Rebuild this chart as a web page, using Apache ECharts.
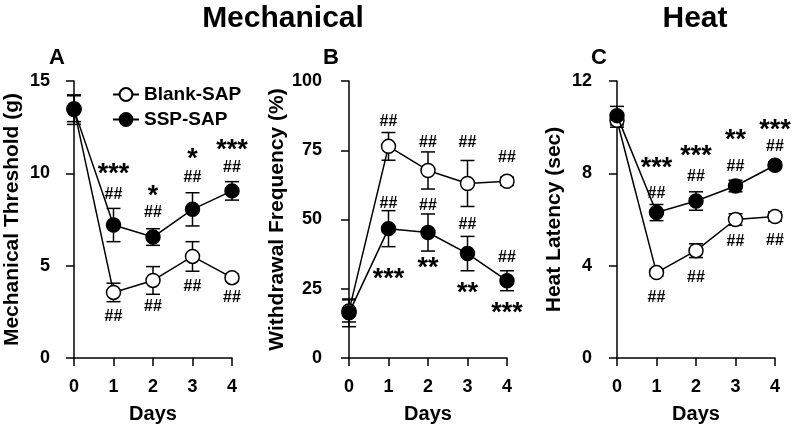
<!DOCTYPE html>
<html>
<head>
<meta charset="utf-8">
<script src="https://cdn.jsdelivr.net/npm/echarts@6/dist/echarts.min.js"></script>
<style>html,body{margin:0;padding:0;background:#fff}#c{width:800px;height:434px}</style>
</head>
<body>
<div id="c"></div>
<script>
// ---- data ----
const days = [0, 1, 2, 3, 4];
const seriesNames = ['Blank-SAP', 'SSP-SAP'];

const mechBlank = [13.5, 3.55, 4.2, 5.5, 4.35];
const mechBlankErr = [0.7, 0.5, 0.75, 0.8, 0.2];
const mechSSP = [13.45, 7.2, 6.55, 8.05, 9.05];
const mechSSPErr = [0.8, 0.9, 0.45, 0.9, 0.5];

const freqBlank = [17, 76.4, 67.7, 63, 63.8];
const freqBlankErr = [4, 5, 6.7, 8.3, 1.5];
const freqSSP = [16.3, 46.7, 45.3, 37.7, 27.9];
const freqSSPErr = [5, 6.5, 6.7, 6.2, 3.6];

const heatBlank = [10.3, 3.7, 4.65, 6.0, 6.13];
const heatBlankErr = [0.3, 0.15, 0.3, 0.25, 0.2];
const heatSSP = [10.5, 6.3, 6.8, 7.45, 8.35];
const heatSSPErr = [0.4, 0.35, 0.4, 0.25, 0.15];

// significance marks: [day, y-value, text]
const mechMarks = [[1,10.27,'***'],[1,8.87,'##'],[1,2.26,'##'],[2,9.09,'*'],[2,7.85,'##'],[2,2.8,'##'],
                   [3,11.08,'*'],[3,9.78,'##'],[3,3.87,'##'],[4,11.6,'***'],[4,10.3,'##'],[4,3.28,'##']];
const freqMarks = [[1,85.5,'##'],[1,55.8,'##'],[1,30.8,'***'],[2,77.9,'##'],[2,55.1,'##'],[2,34.8,'**'],
                   [3,77.9,'##'],[3,48.2,'##'],[3,25.7,'**'],[4,72.5,'##'],[4,36.2,'##'],[4,18.5,'***']];
const heatMarks = [[1,8.48,'***'],[1,7.13,'##'],[1,2.61,'##'],[2,9.0,'***'],[2,7.87,'##'],[2,3.48,'##'],
                   [3,9.7,'**'],[3,8.3,'##'],[3,5.04,'##'],[4,10.13,'***'],[4,9.17,'##'],[4,5.09,'##']];

const yNames = ['Mechanical Threshold (g)', 'Withdrawal Frequency (%)', 'Heat Latency (sec)'];
const yMax = [15, 100, 12];
const yInterval = [5, 25, 4];
const titles = ['Mechanical', 'Heat'];
const panelLetters = ['A', 'B', 'C'];

// ---- chart ----
const FF = '"Liberation Sans", Arial, Helvetica, sans-serif';
const chart = echarts.init(document.getElementById('c'), null, {renderer: 'canvas'});

const gridLefts = [74, 349, 617];
const yOffsets = [7, 8, 7];
const nameGaps = [44, 44, 45];
const labelMargins = [17, 19, 18];

function errRender(params, api) {
  const x = api.value(0), y = api.value(1), e = api.value(2);
  const t = api.coord([x, y + e]), b = api.coord([x, y - e]);
  const w = 7;
  const st = {stroke: '#000', lineWidth: 1.5};
  return {type: 'group', children: [
    {type: 'line', shape: {x1: t[0], y1: t[1], x2: b[0], y2: b[1]}, style: st},
    {type: 'line', shape: {x1: t[0] - w, y1: t[1], x2: t[0] + w, y2: t[1]}, style: st},
    {type: 'line', shape: {x1: b[0] - w, y1: b[1], x2: b[0] + w, y2: b[1]}, style: st}
  ]};
}
function markRender(marks) {
  return function (params, api) {
    const m = marks[params.dataIndex];
    const p = api.coord([m[0], m[1]]);
    const star = m[2].indexOf('*') >= 0;
    const fs = star ? 27 : 16;
    return {type: 'text', x: p[0], y: p[1] + (star ? fs * 0.24 : 0),
      style: {text: m[2], font: 'bold ' + fs + 'px ' + FF, fill: '#000',
        align: 'center', verticalAlign: 'middle', textAlign: 'center', textVerticalAlign: 'middle'}};
  };
}

const panels = [
  [mechBlank, mechBlankErr, mechSSP, mechSSPErr, mechMarks],
  [freqBlank, freqBlankErr, freqSSP, freqSSPErr, freqMarks],
  [heatBlank, heatBlankErr, heatSSP, heatSSPErr, heatMarks]
];

const grids = [], xAxes = [], yAxes = [], series = [];
panels.forEach((p, i) => {
  grids.push({left: gridLefts[i], width: 158, top: 81, bottom: 76});
  xAxes.push({
    type: 'value', gridIndex: i, min: 0, max: 4, interval: 1,
    name: 'Days', nameLocation: 'middle', nameGap: 46,
    nameTextStyle: {fontSize: 20, fontWeight: 'bold', fontFamily: FF, color: '#000'},
    axisLine: {lineStyle: {color: '#000', width: 1.5}},
    axisTick: {length: 8, lineStyle: {color: '#000', width: 1.5}},
    axisLabel: {fontSize: 18, fontWeight: 'bold', fontFamily: FF, color: '#000', margin: 20},
    splitLine: {show: false}
  });
  yAxes.push({
    type: 'value', gridIndex: i, min: 0, max: yMax[i], interval: yInterval[i], offset: yOffsets[i],
    name: yNames[i], nameLocation: 'middle', nameGap: nameGaps[i],
    nameTextStyle: {fontSize: 21, fontWeight: 'bold', fontFamily: FF, color: '#000'},
    axisLine: {show: true, lineStyle: {color: '#000', width: 1.5}},
    axisTick: {show: true, length: 8, lineStyle: {color: '#000', width: 1.5}},
    axisLabel: {fontSize: 18, fontWeight: 'bold', fontFamily: FF, color: '#000', margin: labelMargins[i]},
    splitLine: {show: false}
  });
  const errData = [];
  days.forEach((d, k) => errData.push([d, p[0][k], p[1][k]]));
  days.forEach((d, k) => errData.push([d, p[2][k], p[3][k]]));
  series.push({type: 'custom', xAxisIndex: i, yAxisIndex: i, renderItem: errRender, data: errData, z: 1, silent: true});
  series.push({
    type: 'line', name: seriesNames[0], xAxisIndex: i, yAxisIndex: i, z: 2, clip: false,
    data: days.map((d, k) => [d, p[0][k]]),
    symbol: 'circle', symbolSize: 14, showAllSymbol: true,
    lineStyle: {color: '#000', width: 1.5},
    itemStyle: {color: '#fff', borderColor: '#000', borderWidth: 1.5}
  });
  series.push({
    type: 'line', name: seriesNames[1], xAxisIndex: i, yAxisIndex: i, z: 3, clip: false,
    data: days.map((d, k) => [d, p[2][k]]),
    symbol: 'circle', symbolSize: 14, showAllSymbol: true,
    lineStyle: {color: '#000', width: 1.5},
    itemStyle: {color: '#000', borderColor: '#000', borderWidth: 1.5}
  });
  series.push({type: 'custom', xAxisIndex: i, yAxisIndex: i, renderItem: markRender(p[4]),
    data: p[4].map(m => [m[0], m[1]]), z: 4, silent: true});
});

function gtext(txt, x, y, fs) {
  return {type: 'text', x: x, y: y, style: {text: txt, font: 'bold ' + fs + 'px ' + FF, fill: '#000',
    align: 'center', verticalAlign: 'middle', textAlign: 'center', textVerticalAlign: 'middle'}};
}

chart.setOption({
  animation: false,
  backgroundColor: '#fff',
  grid: grids, xAxis: xAxes, yAxis: yAxes, series: series,
  legend: {
    data: seriesNames, orient: 'vertical', left: 107, top: 80, itemWidth: 26, itemHeight: 16, itemGap: 6,
    textStyle: {fontSize: 19, fontWeight: 'bold', fontFamily: FF, color: '#000'}
  },
  graphic: [
    gtext(titles[0], 283, 19, 30), gtext(titles[1], 695, 19, 30),
    gtext(panelLetters[0], 57, 58, 22), gtext(panelLetters[1], 331, 58, 22), gtext(panelLetters[2], 599, 58, 22)
  ]
});
</script>
</body>
</html>
